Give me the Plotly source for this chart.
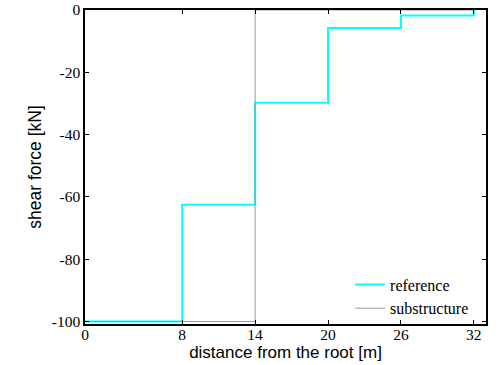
import plotly.graph_objects as go

# data
ref_x = [0, 8, 8, 14, 14, 20, 20, 26, 26, 32, 32]
ref_y = [-100, -100, -62.5, -62.5, -29.8, -29.8, -5.8, -5.8, -1.8, -1.8, 0]
sub_x = [0, 14, 14, 32]
sub_y = [-100, -100, 0, 0]
x_ticks = [0, 8, 14, 20, 26, 32]
y_ticks = [0, -20, -40, -60, -80, -100]

fig = go.Figure()
fig.add_trace(go.Scatter(x=ref_x, y=ref_y, mode="lines", name="reference",
                         line=dict(color="#00FFFF", width=2), legendgroup="a"))
fig.add_trace(go.Scatter(x=sub_x, y=sub_y, mode="lines", name="substructure",
                         line=dict(color="#999999", width=1), legendgroup="b"))

serif = "Liberation Serif"
sans = "Liberation Sans"

axis_common = dict(showline=True, linecolor="black", linewidth=1.5, mirror="ticks",
                   ticks="inside", ticklen=4, tickcolor="black", tickwidth=1,
                   showgrid=False, zeroline=False, automargin=False,
                   tickfont=dict(family=serif, size=15.5, color="black"))

fig.update_xaxes(range=[0, 33], tickvals=x_ticks, ticktext=[str(v) for v in x_ticks],
                 ticklabelstandoff=-4,
                 title=dict(text="distance from the root [m]", font=dict(family=sans, size=17, color="black"), standoff=0),
                 **axis_common)
fig.update_yaxes(range=[-100.8, 0], tickvals=y_ticks, ticktext=[str(v) for v in y_ticks],
                 title=dict(text="shear force [kN]", font=dict(family=sans, size=17.5, color="black"), standoff=6),
                 **axis_common)

fig.update_layout(
    width=500, height=365,
    font=dict(family=serif, size=16, color="black"),
    margin=dict(l=85, r=14, t=10, b=41, autoexpand=False),
    plot_bgcolor="white", paper_bgcolor="white",
    showlegend=True,
    legend=dict(x=0.661, y=0.18, xanchor="left", yanchor="top",
                bgcolor="rgba(0,0,0,0)", borderwidth=0,
                font=dict(family=serif, size=16, color="black"),
                tracegroupgap=0, traceorder="grouped"),
)

fig.write_html("out.html")
